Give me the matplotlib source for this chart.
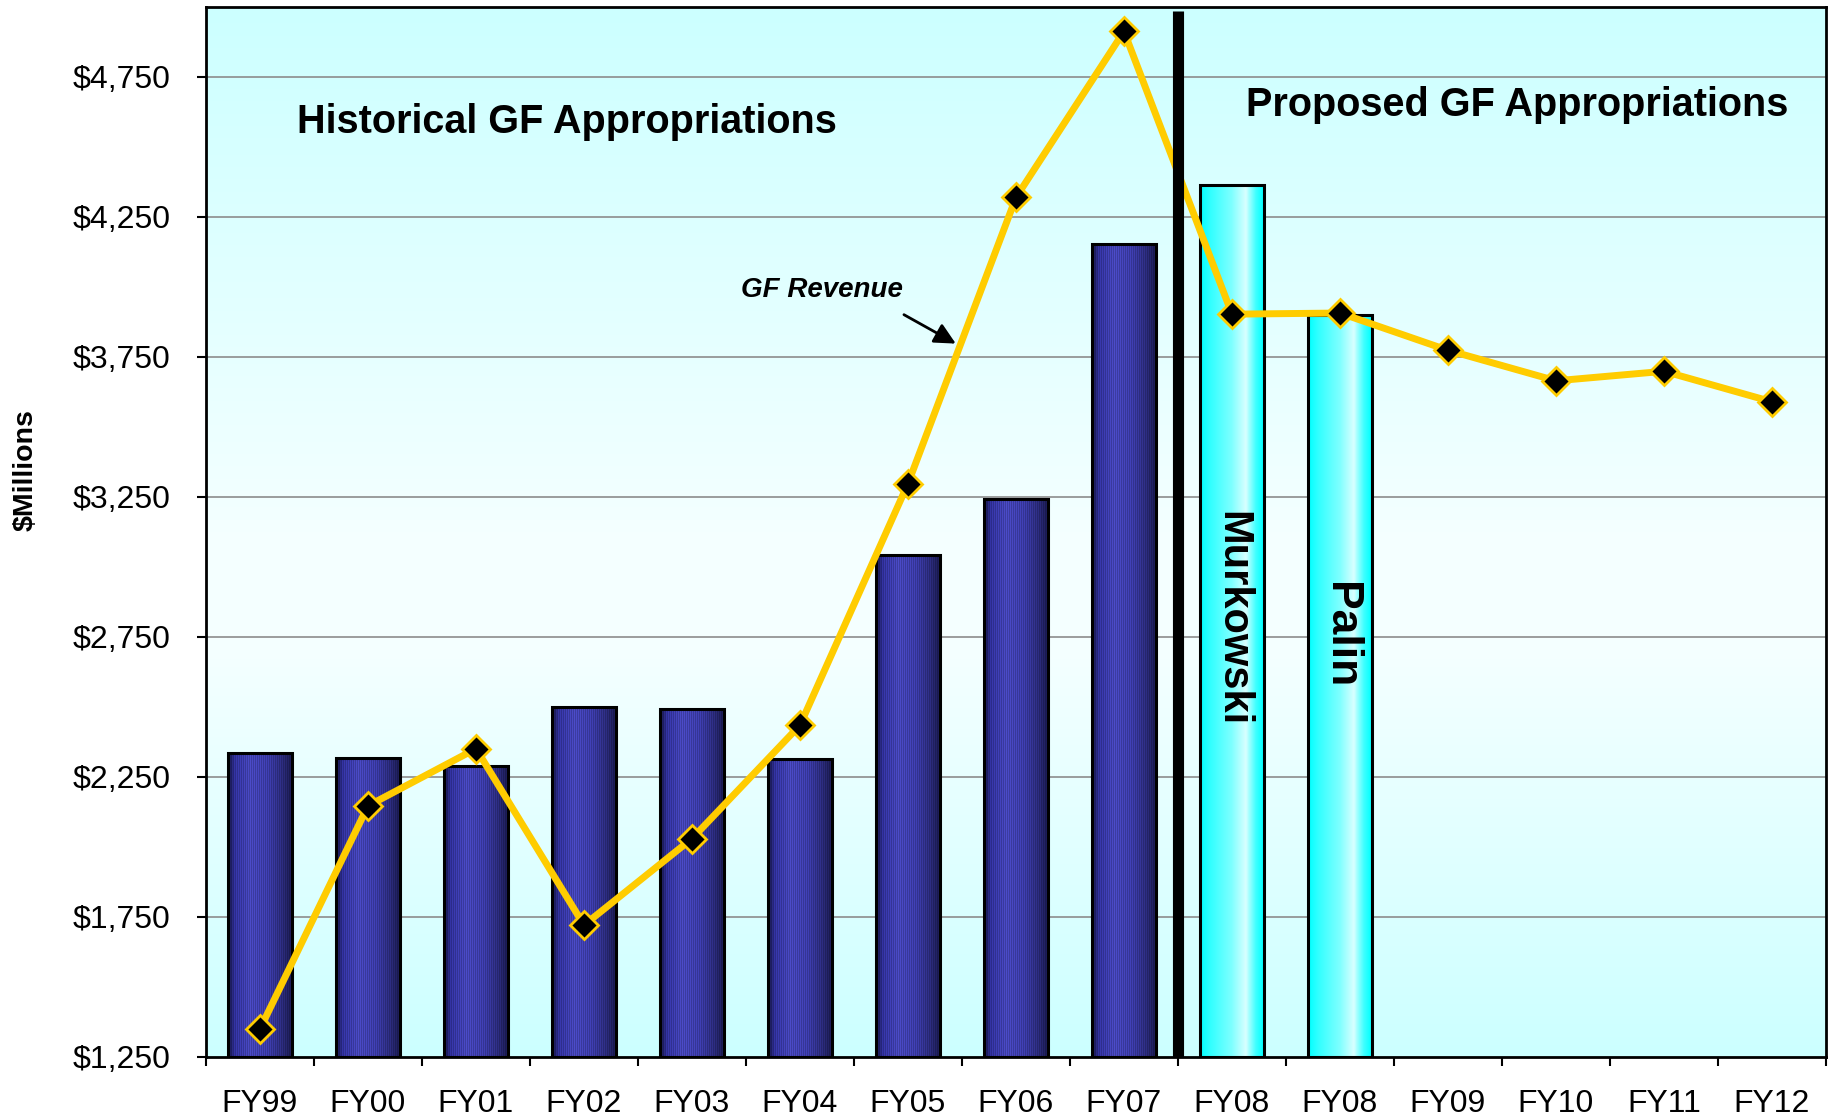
import matplotlib
matplotlib.use("Agg")
import matplotlib.pyplot as plt
import numpy as np
from matplotlib.colors import LinearSegmentedColormap

# chart data ($ millions)
years = ["FY99", "FY00", "FY01", "FY02", "FY03", "FY04", "FY05", "FY06",
         "FY07", "FY08", "FY08", "FY09", "FY10", "FY11", "FY12"]
historical = [2335, 2318, 2289, 2501, 2493, 2314, 3044, 3244, 4153]
proposed = [4366, 3899]
proposed_names = ["Murkowski", "Palin"]
revenue = [1350, 2147, 2351, 1721, 2030, 2435, 3298, 4320, 4913,
           3903, 3907, 3774, 3665, 3699, 3590]
y_ticks = [1250, 1750, 2250, 2750, 3250, 3750, 4250, 4750]

plt.rcParams["font.family"] = ["Liberation Sans", "DejaVu Sans"]

fig = plt.figure(figsize=(18.29, 11.18), dpi=100)
ax = fig.add_axes([206 / 1829, 61 / 1118, 1620 / 1829, 1050 / 1118])

x = np.arange(len(years))
ymin, ymax = 1250, 5000
xmin, xmax = -0.5, len(years) - 0.5

# plot background: cyan at top and bottom, near white in the middle
bg = LinearSegmentedColormap.from_list(
    "bg", [(0, "#CCFFFF"), (0.5, "#F4FFFF"), (0.62, "#F4FFFF"), (1, "#CCFFFF")])
ax.imshow(np.linspace(1, 0, 256)[:, None], cmap=bg, aspect="auto",
          extent=[xmin, xmax, ymin, ymax], zorder=0, origin="lower")

for v in y_ticks[1:]:
    ax.axhline(v, color="#8c8c8c", lw=1.2, zorder=1)


def bar_image(ax, patch, stops, stripes=False):
    x0, w = patch.get_x(), patch.get_width()
    y0, h = patch.get_y(), patch.get_height()
    cmap = LinearSegmentedColormap.from_list("b", stops)
    n = 64
    cols = np.array([cmap(t)[:3] for t in np.linspace(0, 1, n)])
    if stripes:
        shade = np.where(np.arange(n) % 2 == 0, 1.12, 0.9)
        cols = np.clip(cols * shade[:, None], 0, 1)
    img = cols[None, :, :]
    ax.imshow(img, aspect="auto", extent=[x0, x0 + w, y0, y0 + h],
              zorder=2, interpolation="nearest" if stripes else "bilinear")


width = 0.59
hist_bars = ax.bar(x[:len(historical)], np.array(historical) - ymin, width,
                   bottom=ymin, facecolor="none", edgecolor="black",
                   linewidth=2.2, zorder=3)
blue_stops = [(0, "#141440"), (0.1, "#303098"), (0.35, "#4444b4"),
              (0.62, "#3a3aa4"), (0.85, "#2a2a78"), (1, "#1a1a4e")]
for p in hist_bars:
    bar_image(ax, p, blue_stops, stripes=True)

prop_x = x[len(historical):len(historical) + len(proposed)]
prop_bars = ax.bar(prop_x, np.array(proposed) - ymin, width, bottom=ymin,
                   facecolor="none", edgecolor="black", linewidth=2.2, zorder=3)
cyan_stops = [(0, "#00FFFF"), (0.15, "#30FFFF"), (0.5, "#7FFFFF"),
              (0.72, "#D8FFFF"), (0.88, "#40FFFF"), (1, "#00FFFF")]
for p in prop_bars:
    bar_image(ax, p, cyan_stops)

for xi, v, name, fs in zip(prop_x, [2814, 2757], proposed_names, [30, 32]):
    ax.text(xi, v, name, rotation=-90, ha="center", va="center",
            fontsize=fs, fontweight="bold", zorder=6)

# revenue line
ax.plot(x, revenue, color="#FFCC00", lw=5, zorder=4,
        marker="D", markersize=14, markerfacecolor="black",
        markeredgecolor="#FFCC00", markeredgewidth=2)

# divider between historical and proposed
ax.plot([8.5, 8.5], [ymin, 4985], color="black", lw=8,
        solid_capstyle="butt", zorder=5)

ax.text(2.84, 4551, "Historical GF Appropriations", ha="center",
        va="baseline", fontsize=28.5, fontweight="bold", zorder=6)
ax.text(11.64, 4611, "Proposed GF Appropriations", ha="center",
        va="baseline", fontsize=28.5, fontweight="bold", zorder=6)
ax.text(5.2, 3965, "GF Revenue", ha="center", va="baseline", fontsize=20,
        fontweight="bold", fontstyle="italic", zorder=6)
ax.annotate("", xy=(6.465, 3793), xytext=(5.94, 3906),
            arrowprops=dict(arrowstyle="-|>", color="black", lw=2,
                            mutation_scale=32), zorder=6)

ax.set_xlim(xmin, xmax)
ax.set_ylim(ymin, ymax)

ax.set_yticks(y_ticks)
ax.set_yticklabels([f"${v:,}" for v in y_ticks])
ax.tick_params(axis="y", direction="out", length=6.5, width=1.5,
               labelsize=23, pad=19)

ax.set_xticks(np.arange(xmin, xmax + 0.01, 1.0))
ax.set_xticklabels([])
ax.tick_params(axis="x", which="major", direction="out", length=6.5, width=1.5)
ax.set_xticks(x, minor=True)
ax.set_xticklabels(years, minor=True)
ax.tick_params(axis="x", which="minor", length=0, labelsize=23, pad=23)

for s in ax.spines.values():
    s.set_color("black")
    s.set_linewidth(2)
    s.set_zorder(7)

fig.text(26 / 1829, 1 - 470 / 1118, "$Millions", rotation=90, ha="center",
         va="center", fontsize=20.5, fontweight="bold")

fig.savefig("out.png", dpi=100, facecolor="white")
